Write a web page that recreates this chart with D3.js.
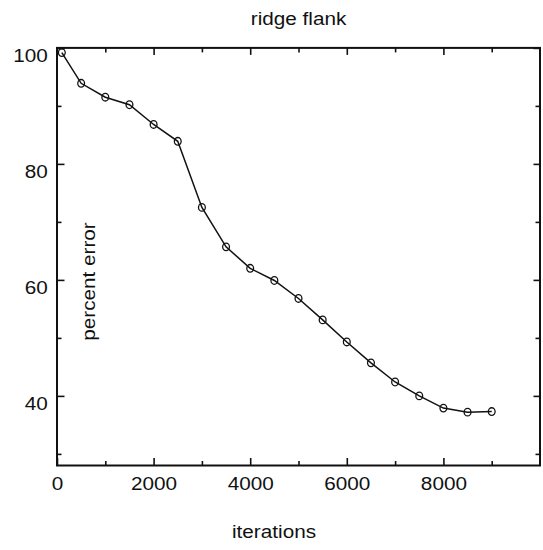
<!DOCTYPE html>
<html>
<head>
<meta charset="utf-8">
<script src="https://cdn.jsdelivr.net/npm/d3@7"></script>
<style>
  html, body { margin: 0; padding: 0; background: #fff; }
  svg text { font-family: "Liberation Sans", Arial, Helvetica, sans-serif; fill: #111; }
</style>
</head>
<body>
<svg id="chart" width="543" height="550"></svg>
<script>
// Training curve: error rate against iteration count
const iterations = [100, 500, 1000, 1500, 2000, 2500, 3000, 3500, 4000, 4500,
                    5000, 5500, 6000, 6500, 7000, 7500, 8000, 8500, 9000];
const percentError = [99.2, 93.9, 91.5, 90.2, 86.8, 83.9, 72.5, 65.7, 62.0, 59.9,
                      56.8, 53.1, 49.3, 45.7, 42.4, 40.0, 37.9, 37.2, 37.3];

const xMajorTicks = [0, 2000, 4000, 6000, 8000];
const xMinorTicks = [1000, 3000, 5000, 7000, 9000];
const yMajorTicks = [40, 60, 80, 100];
const yMinorTicks = [30, 50, 70, 90];

const titleText = "ridge flank";
const xLabel = "iterations";
const yLabel = "percent error";

const svg = d3.select("#chart");
const plotLeft = 57, plotRight = 540, plotTop = 47.9, plotBottom = 465.5;

const x = d3.scaleLinear().domain([0, 10000]).range([plotLeft, plotRight]);
const y = d3.scaleLinear().domain([28, 100]).range([plotBottom, plotTop]);

const fontSize = 18.5;
const stretch = 1.12;

function styleAxis(g) {
  g.select(".domain").remove();
  g.selectAll(".tick line").attr("stroke", "#111").attr("stroke-width", 1.6);
}

// bottom axis with labels
svg.append("g")
  .attr("transform", `translate(0,${plotBottom})`)
  .call(d3.axisBottom(x).tickValues(xMajorTicks).tickSize(-7.5).tickFormat(d3.format("d")))
  .call(styleAxis)
  .call(g => g.selectAll(".tick text")
    .attr("y", 11.4).attr("dy", "0.71em")
    .attr("font-size", fontSize)
    .attr("transform", `scale(${stretch},1)`));
svg.append("g")
  .attr("transform", `translate(0,${plotBottom})`)
  .call(d3.axisBottom(x).tickValues(xMinorTicks).tickSize(-4.5).tickFormat(""))
  .call(styleAxis);

// top axis, ticks only
svg.append("g")
  .attr("transform", `translate(0,${plotTop})`)
  .call(d3.axisTop(x).tickValues(xMajorTicks).tickSize(-7).tickFormat(""))
  .call(styleAxis);
svg.append("g")
  .attr("transform", `translate(0,${plotTop})`)
  .call(d3.axisTop(x).tickValues(xMinorTicks).tickSize(-4.5).tickFormat(""))
  .call(styleAxis);

// left axis with labels
svg.append("g")
  .attr("transform", `translate(${plotLeft},0)`)
  .call(d3.axisLeft(y).tickValues(yMajorTicks).tickSize(-7.5).tickFormat(d3.format("d")))
  .call(styleAxis)
  .call(g => g.selectAll(".tick text")
    .attr("x", -8.3).attr("dy", "0.71em")
    .attr("font-size", fontSize)
    .attr("transform", `scale(${stretch},1)`));
svg.append("g")
  .attr("transform", `translate(${plotLeft},0)`)
  .call(d3.axisLeft(y).tickValues(yMinorTicks).tickSize(-4.5).tickFormat(""))
  .call(styleAxis);

// right axis, ticks only
svg.append("g")
  .attr("transform", `translate(${plotRight},0)`)
  .call(d3.axisRight(y).tickValues(yMajorTicks).tickSize(-6.5).tickFormat(""))
  .call(styleAxis);
svg.append("g")
  .attr("transform", `translate(${plotRight},0)`)
  .call(d3.axisRight(y).tickValues(yMinorTicks).tickSize(-4.5).tickFormat(""))
  .call(styleAxis);

// plot frame
svg.append("rect")
  .attr("x", x(0)).attr("y", y(100))
  .attr("width", x(10000) - x(0)).attr("height", y(28) - y(100))
  .attr("fill", "none").attr("stroke", "#111").attr("stroke-width", 2);

const pts = iterations.map((d, i) => [d, percentError[i]]);

svg.append("path")
  .datum(pts)
  .attr("fill", "none")
  .attr("stroke", "#111")
  .attr("stroke-width", 1.5)
  .attr("d", d3.line().x(d => x(d[0])).y(d => y(d[1])));

svg.append("g").selectAll("ellipse")
  .data(pts)
  .join("ellipse")
  .attr("cx", d => x(d[0]))
  .attr("cy", d => y(d[1]))
  .attr("rx", 3.4).attr("ry", 3.8)
  .attr("fill", "none")
  .attr("stroke", "#111")
  .attr("stroke-width", 1.3);

// title and axis labels
svg.append("text")
  .attr("transform", `translate(${(plotLeft + plotRight) / 2},25) scale(${stretch},1)`)
  .attr("text-anchor", "middle")
  .attr("font-size", fontSize)
  .text(titleText);

svg.append("text")
  .attr("transform", `translate(274,538) scale(${stretch},1)`)
  .attr("text-anchor", "middle")
  .attr("font-size", fontSize)
  .text(xLabel);

svg.append("text")
  .attr("transform", `translate(95,281.5) rotate(-90) scale(${stretch},1)`)
  .attr("text-anchor", "middle")
  .attr("font-size", fontSize)
  .text(yLabel);
</script>
</body>
</html>
